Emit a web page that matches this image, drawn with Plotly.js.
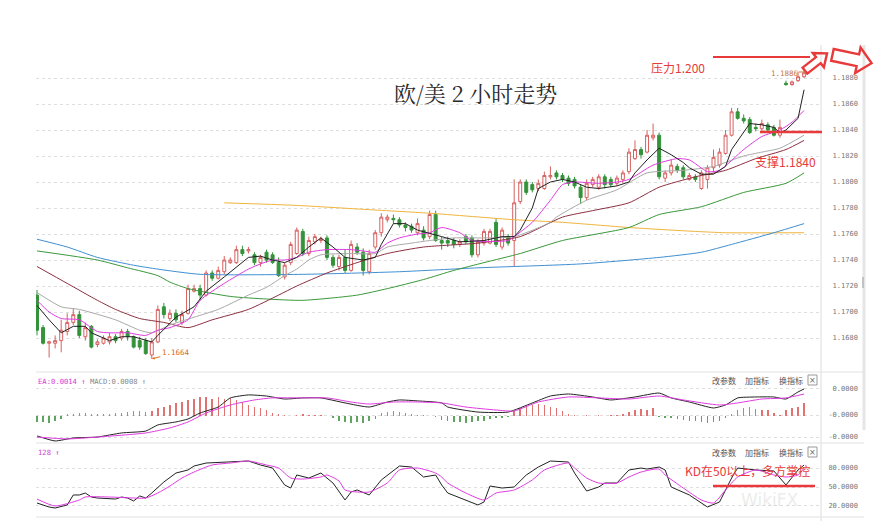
<!DOCTYPE html>
<html><head><meta charset="utf-8">
<script src="https://cdn.plot.ly/plotly-3.0.1.min.js"></script>
<style>html,body{margin:0;padding:0;background:#fff}#chart{width:876px;height:521px}</style>
</head><body><div id="chart"></div>
<script>
// ---- candle data (2-hour EUR/USD) ----
const openP  = [1.1713,1.1688,1.1676,1.1676,1.1678,1.1685,1.1692,1.1698,1.1681,1.1689,1.1675,1.1676,1.1677,1.1681,1.1680,1.1685,1.1681,1.1678,1.1678,1.1667,
1.1677,1.1704,1.1695,1.1699,1.1692,1.1699,1.1716,1.1718,1.1713,1.1730,1.1726,1.1731,1.1738,1.1738,1.1748,1.1747,1.1744,1.1738,1.1746,1.1744,
1.1738,1.1727,1.1738,1.1745,1.1762,1.1745,1.1754,1.1755,1.1757,1.1742,1.1735,1.1742,1.1732,1.1750,1.1746,1.1731,1.1750,1.1761,1.1771,1.1772,
1.1771,1.1767,1.1766,1.1761,1.1763,1.1758,1.1775,1.1755,1.1755,1.1755,1.1752,1.1758,1.1757,1.1744,1.1753,1.1753,1.1769,1.1750,1.1758,1.1755,
1.1785,1.1800,1.1798,1.1795,1.1795,1.1804,1.1807,1.1805,1.1803,1.1802,1.1796,1.1788,1.1798,1.1796,1.1804,1.1802,1.1799,1.1802,1.1808,1.1818,
1.1825,1.1823,1.1834,1.1836,1.1803,1.1807,1.1812,1.1811,1.1802,1.1804,1.1795,1.1802,1.1811,1.1813,1.1822,1.1836,1.1854,1.1849,1.1848,1.1842,
1.1841,1.1844,1.1842,1.1836,1.1876,1.1875,1.1878,1.1881];
const highP  = [1.1717,1.1690,1.1678,1.1682,1.1694,1.1699,1.1703,1.1701,1.1692,1.1690,1.1679,1.1682,1.1684,1.1683,1.1687,1.1687,1.1682,1.1681,1.1680,1.1680,
1.1705,1.1707,1.1702,1.1702,1.1701,1.1721,1.1721,1.1721,1.1732,1.1732,1.1735,1.1743,1.1742,1.1751,1.1751,1.1750,1.1746,1.1744,1.1748,1.1746,
1.1742,1.1738,1.1754,1.1765,1.1764,1.1758,1.1760,1.1758,1.1759,1.1744,1.1744,1.1748,1.1755,1.1753,1.1749,1.1748,1.1763,1.1776,1.1775,1.1775,
1.1773,1.1769,1.1768,1.1772,1.1766,1.1778,1.1778,1.1758,1.1758,1.1757,1.1756,1.1760,1.1759,1.1756,1.1764,1.1764,1.1772,1.1765,1.1760,1.1802,
1.1802,1.1802,1.1800,1.1802,1.1808,1.1812,1.1809,1.1807,1.1805,1.1804,1.1798,1.1802,1.1804,1.1806,1.1806,1.1804,1.1805,1.1809,1.1826,1.1832,
1.1827,1.1840,1.1845,1.1838,1.1809,1.1817,1.1814,1.1813,1.1807,1.1806,1.1809,1.1813,1.1825,1.1826,1.1840,1.1857,1.1857,1.1852,1.1850,1.1845,
1.1848,1.1846,1.1844,1.1848,1.1878,1.1878,1.1885,1.1886];
const lowP   = [1.1682,1.1675,1.1665,1.1672,1.1669,1.1682,1.1690,1.1680,1.1678,1.1672,1.1673,1.1675,1.1675,1.1676,1.1678,1.1678,1.1672,1.1671,1.1667,1.1664,
1.1676,1.1695,1.1693,1.1692,1.1690,1.1698,1.1715,1.1709,1.1712,1.1724,1.1725,1.1729,1.1737,1.1737,1.1743,1.1745,1.1736,1.1735,1.1738,1.1737,
1.1727,1.1725,1.1736,1.1744,1.1743,1.1743,1.1752,1.1753,1.1740,1.1734,1.1732,1.1730,1.1731,1.1744,1.1728,1.1729,1.1748,1.1758,1.1769,1.1768,
1.1765,1.1762,1.1761,1.1759,1.1755,1.1756,1.1754,1.1748,1.1750,1.1749,1.1750,1.1752,1.1742,1.1742,1.1751,1.1752,1.1750,1.1748,1.1751,1.1735,
1.1783,1.1790,1.1792,1.1793,1.1794,1.1802,1.1802,1.1800,1.1797,1.1795,1.1783,1.1786,1.1796,1.1794,1.1795,1.1796,1.1797,1.1799,1.1806,1.1817,
1.1818,1.1822,1.1832,1.1802,1.1800,1.1805,1.1807,1.1802,1.1801,1.1800,1.1794,1.1795,1.1808,1.1811,1.1821,1.1835,1.1848,1.1845,1.1837,1.1839,
1.1839,1.1838,1.1835,1.1834,1.1874,1.1874,1.1877,1.1880];
const closeP = [1.1686,1.1676,1.1677,1.1678,1.1686,1.1692,1.1698,1.1682,1.1688,1.1673,1.1677,1.1680,1.1681,1.1678,1.1685,1.1681,1.1673,1.1673,1.1668,1.1677,
1.1702,1.1698,1.1699,1.1694,1.1698,1.1718,1.1718,1.1713,1.1730,1.1726,1.1732,1.1740,1.1740,1.1748,1.1745,1.1748,1.1738,1.1742,1.1740,1.1738,
1.1728,1.1736,1.1752,1.1763,1.1745,1.1755,1.1758,1.1756,1.1742,1.1736,1.1742,1.1732,1.1752,1.1746,1.1732,1.1745,1.1761,1.1773,1.1773,1.1771,
1.1767,1.1765,1.1763,1.1768,1.1757,1.1775,1.1755,1.1753,1.1753,1.1752,1.1754,1.1754,1.1744,1.1754,1.1762,1.1762,1.1752,1.1763,1.1753,1.1784,
1.1800,1.1792,1.1794,1.1799,1.1805,1.1805,1.1804,1.1802,1.1799,1.1797,1.1788,1.1799,1.1802,1.1804,1.1798,1.1798,1.1803,1.1807,1.1823,1.1825,
1.1821,1.1836,1.1836,1.1804,1.1807,1.1813,1.1809,1.1804,1.1805,1.1802,1.1807,1.1811,1.1819,1.1823,1.1836,1.1854,1.1849,1.1847,1.1838,1.1841,
1.1845,1.1840,1.1836,1.1842,1.1875,1.1877,1.1881,1.1884];
const barIdx = openP.map((_, i) => i);

// ---- moving averages (read at sample bars) ----
const ma5Idx = [0,2,4,6,8,9,12,14,16,19,20,23,26,28,31,35,37,39,41,43,45,47,49,51,54,56,57,59,61,63,67,70,74,77,79,80,82,83,85,87,89,91,93,96,98,99,101,103,105,107,108,110,112,114,115,117,118,120,122,123,124,126,127];
const ma5Val = [1.1705,1.1694,1.1684,1.1689,1.1689,1.1684,1.1678,1.1681,1.1681,1.1677,1.1682,1.1696,1.1704,1.1716,1.1727,1.1742,1.1743,1.1740,1.1738,1.1742,1.1750,1.1757,1.1750,1.1742,1.1740,1.1742,1.1752,1.1768,1.1768,1.1763,1.1758,1.1754,1.1755,1.1758,1.1758,1.1763,1.1780,1.1795,1.1800,1.1802,1.1800,1.1796,1.1795,1.1797,1.1800,1.1807,1.1817,1.1826,1.1821,1.1815,1.1811,1.1806,1.1806,1.1812,1.1825,1.1838,1.1845,1.1844,1.1842,1.1838,1.1840,1.1849,1.1871];
const ma10Idx = [0,2,4,7,10,12,15,18,20,22,25,27,31,35,37,39,41,43,45,48,52,54,56,58,60,63,65,67,70,72,78,79,82,85,87,89,93,96,98,102,106,108,111,113,117,120,123,125,127];
const ma10Val = [1.1709,1.1700,1.1695,1.1694,1.1685,1.1684,1.1684,1.1682,1.1686,1.1688,1.1694,1.1709,1.1722,1.1733,1.1737,1.1740,1.1740,1.1742,1.1746,1.1748,1.1748,1.1747,1.1746,1.1753,1.1757,1.1760,1.1761,1.1765,1.1761,1.1755,1.1755,1.1758,1.1769,1.1786,1.1798,1.1800,1.1799,1.1800,1.1802,1.1813,1.1818,1.1817,1.1808,1.1809,1.1825,1.1835,1.1840,1.1846,1.1855];
const ma20Idx = [0,4,7,13,17,19,22,26,30,35,38,41,43,45,47,52,56,58,62,65,69,74,79,85,86,91,96,101,107,112,117,120,123,127];
const ma20Val = [1.1715,1.1704,1.1702,1.1694,1.1686,1.1684,1.1690,1.1696,1.1702,1.1713,1.1719,1.1728,1.1733,1.1740,1.1744,1.1745,1.1745,1.1750,1.1753,1.1755,1.1757,1.1757,1.1758,1.1769,1.1773,1.1786,1.1794,1.1807,1.1809,1.1812,1.1820,1.1823,1.1826,1.1836];
const ma30Idx = [0,5,10,13,17,21,25,29,35,40,43,48,53,58,64,73,80,87,92,98,103,109,114,119,124,127];
const ma30Val = [1.1735,1.1722,1.1709,1.1702,1.1695,1.1692,1.1688,1.1694,1.1702,1.1713,1.1720,1.1730,1.1738,1.1745,1.1750,1.1753,1.1758,1.1773,1.1778,1.1784,1.1796,1.1804,1.1809,1.1818,1.1825,1.1832];
const ma60Idx = [0,10,15,20,22,25,32,38,44,53,58,64,69,74,80,87,98,103,110,117,124,127];
const ma60Val = [1.1747,1.1740,1.1734,1.1728,1.1723,1.1718,1.1712,1.1710,1.1709,1.1713,1.1718,1.1725,1.1732,1.1738,1.1745,1.1755,1.1765,1.1775,1.1781,1.1792,1.1799,1.1807];
const ma120Idx = [0,5,10,16,20,27,44,60,73,90,103,110,115,122,127];
const ma120Val = [1.1756,1.1750,1.1742,1.1736,1.1733,1.1729,1.1729,1.1731,1.1734,1.1737,1.1742,1.1746,1.1752,1.1761,1.1768];
const ma250Idx = [31,43,54,65,79,87,98,109,114,127];
const ma250Val = [1.1784,1.1782,1.1779,1.1776,1.1771,1.1769,1.1765,1.1762,1.1761,1.1761];

// ---- MACD (units of 0.0001) ----
const macdHist = [-0.4,-0.4,-0.45,-0.35,-0.2,0.1,0.15,0.2,0.2,0.1,0.1,0.15,0.1,0.2,0.2,0.25,0.3,0.3,0.25,0.3,
0.5,0.6,0.7,0.8,0.9,1.0,1.1,1.2,1.2,1.1,1.2,1.1,1.15,1.0,0.9,0.7,0.6,0.5,0.35,0.2,
0.1,0.05,0.02,0.05,0.1,0.05,0.05,0.05,0.02,-0.1,-0.3,-0.4,-0.45,-0.4,-0.45,-0.3,-0.2,0.2,0.25,0.3,
0.25,0.2,0.15,0.05,0.05,0.02,-0.05,-0.25,-0.35,-0.4,-0.4,-0.45,-0.4,-0.35,-0.3,-0.2,-0.15,-0.1,-0.05,0.3,
0.5,0.6,0.7,0.75,0.7,0.6,0.5,0.3,0.15,0.05,0.03,0.05,0.03,0.05,0.03,0.05,0.05,0.1,0.25,0.35,
0.45,0.35,0.5,-0.05,-0.1,-0.15,-0.2,-0.25,-0.3,-0.35,-0.4,-0.45,-0.4,-0.3,-0.15,0.1,0.4,0.5,0.55,0.45,
0.35,0.35,0.2,0.05,0.35,0.5,0.6,0.8];
const difIdx = [0,3,6,10,14,18,20,23,25,27,30,32,35,38,41,44,47,51,55,58,60,63,67,68,73,78,82,85,88,92,95,99,103,105,108,112,114,116,119,122,124,126,127];
const difVal = [-1.27,-1.59,-1.40,-1.34,-1.08,-0.96,-0.57,-0.38,-0.19,0.19,0.57,1.15,1.34,1.27,1.08,1.15,1.15,0.83,0.57,0.89,1.02,0.96,0.83,0.57,0.25,0.25,0.83,1.27,1.40,1.21,1.02,1.21,1.46,1.15,0.89,0.51,0.70,1.15,1.21,1.21,1.08,1.53,1.72];
const deaIdx = [0,5,10,18,22,25,28,32,36,39,44,48,52,55,59,63,67,71,76,79,83,88,93,98,103,107,113,116,120,124,127];
const deaVal = [-1.34,-1.46,-1.34,-1.08,-0.76,-0.38,0.19,0.70,1.02,1.15,1.15,1.15,0.89,0.76,0.89,0.89,0.83,0.57,0.38,0.32,0.89,1.21,1.15,1.08,1.27,1.02,0.70,0.83,1.08,1.15,1.40];

// ---- KD ----
const kIdx = [0,2,3,5,6,7,8,9,10,13,14,15,16,17,18,19,21,23,25,26,28,31,35,37,39,41,42,43,45,47,49,51,52,53,55,57,60,62,64,66,67,68,71,72,73,74,75,77,79,81,83,85,88,89,91,93,94,96,98,100,101,103,104,105,108,111,113,115,116,119,122,124,126,127];
const kVal = [24.7,18.4,16.8,21.6,37.4,37.4,40.5,34.2,32.6,31.0,34.2,32.6,27.9,35.8,32.6,40.5,57.9,72.1,76.9,83.2,87.9,89.5,91.1,84.8,80.0,53.2,48.4,69.0,64.2,72.1,56.3,29.5,42.1,45.3,37.4,61.1,83.2,81.6,65.8,69.0,53.2,40.5,29.5,26.3,21.6,26.3,51.6,48.4,50.0,69.0,81.6,91.1,89.5,72.1,43.7,50.0,56.3,56.3,76.9,80.0,78.4,81.6,76.9,50.0,37.4,18.4,26.3,64.2,80.0,76.9,75.3,53.2,76.9,84.8];
const dIdx = [0,3,7,8,12,16,18,20,22,24,26,29,32,35,38,40,42,44,47,48,50,51,53,55,58,60,63,66,67,68,71,74,76,79,82,84,88,89,91,93,96,98,100,103,104,107,110,112,114,116,119,122,124,126,127];
const dVal = [31.0,20.0,29.5,34.2,34.2,32.6,32.6,40.5,51.6,64.2,73.7,84.8,87.9,91.1,84.8,80.0,64.2,62.6,65.8,69.0,59.5,45.3,42.1,42.1,56.3,76.9,80.0,72.1,65.8,56.3,40.5,29.5,40.5,45.3,61.1,76.9,87.9,80.0,64.2,56.3,56.3,65.8,73.7,78.4,69.0,48.4,29.5,24.7,45.3,65.8,76.9,69.0,65.8,69.0,80.0];

// ---- tick labels ----
const priceTicks = [1.1680,1.1700,1.1720,1.1740,1.1760,1.1780,1.1800,1.1820,1.1840,1.1860,1.1880];
const priceTickText = priceTicks.map(v => '\u00A0' + v.toFixed(4));
const macdTicks = [1.72, 0.06, -1.34];
const macdTickText = ['\u00A00.0000', '-0.0000', '-0.0000'];
const kdTicks = [80, 50, 20];
const kdTickText = ['80.0000', '50.0000', '20.0000'];

// ---- helpers for pixel placement ----
const W = 876, H = 521;
const PX = x => x / W, PY = y => 1 - y / H;
const MONO = 'DejaVu Sans Mono, Liberation Mono, monospace';
const CJK = 'Noto Sans CJK SC, Noto Sans, sans-serif';

function maLine(xs, ys, color, shape) {
  return {type: 'scatter', mode: 'lines', x: xs, y: ys, xaxis: 'x', yaxis: 'y',
    line: {color: color, width: 1, shape: shape || 'spline', smoothing: 0.6}, hoverinfo: 'skip'};
}

const traces = [
  {type: 'candlestick', x: barIdx, open: openP, high: highP, low: lowP, close: closeP,
   xaxis: 'x', yaxis: 'y', whiskerwidth: 0, hoverinfo: 'skip',
   increasing: {line: {color: '#d86060', width: 1}, fillcolor: '#ffffff'},
   decreasing: {line: {color: '#34933a', width: 1}, fillcolor: '#34933a'}},
  maLine(ma250Idx, ma250Val, '#f0b43c'),
  maLine(ma120Idx, ma120Val, '#3f8fd2'),
  maLine(ma60Idx, ma60Val, '#3a983a'),
  maLine(ma30Idx, ma30Val, '#8c2f3f'),
  maLine(ma20Idx, ma20Val, '#a9a9a9'),
  maLine(ma10Idx, ma10Val, '#e03ae0'),
  maLine(ma5Idx, ma5Val, '#222222', 'linear'),
  {type: 'bar', x: barIdx, y: macdHist, xaxis: 'x', yaxis: 'y2', width: 0.24, hoverinfo: 'skip',
   marker: {color: macdHist.map(v => v >= 0 ? '#e07272' : '#5fa45f'), line: {width: 0}}},
  {type: 'scatter', mode: 'lines', x: difIdx, y: difVal, xaxis: 'x', yaxis: 'y2',
   line: {color: '#222', width: 1, shape: 'spline', smoothing: 0.5}, hoverinfo: 'skip'},
  {type: 'scatter', mode: 'lines', x: deaIdx, y: deaVal, xaxis: 'x', yaxis: 'y2',
   line: {color: '#e03ae0', width: 1, shape: 'spline', smoothing: 0.6}, hoverinfo: 'skip'},
  {type: 'scatter', mode: 'lines', x: kIdx, y: kVal, xaxis: 'x', yaxis: 'y3',
   line: {color: '#222', width: 1}, hoverinfo: 'skip'},
  {type: 'scatter', mode: 'lines', x: dIdx, y: dVal, xaxis: 'x', yaxis: 'y3',
   line: {color: '#e03ae0', width: 1, shape: 'spline', smoothing: 0.6}, hoverinfo: 'skip'}
];

const yCommon = {side: 'right', anchor: 'x', zeroline: false, showline: false,
  ticks: 'outside', ticklen: 5, tickcolor: 'rgba(0,0,0,0)', tickmode: 'array',
  tickfont: {family: MONO, size: 7, color: '#777'},
  gridcolor: '#dedede', griddash: 'dot', gridwidth: 1, fixedrange: true};

function blockArrow(cx, cy, len, shaft, head, headLen, angleDeg) {
  const pts = [[-len/2,-shaft],[len/2-headLen,-shaft],[len/2-headLen,-head],[len/2,0],
               [len/2-headLen,head],[len/2-headLen,shaft],[-len/2,shaft]];
  const a = angleDeg * Math.PI / 180, c = Math.cos(a), s = Math.sin(a);
  return 'M' + pts.map(([x, y]) => PX(cx + x*c - y*s).toFixed(5) + ',' + PY(cy + x*s + y*c).toFixed(5)).join(' L') + ' Z';
}
function hline(x0, x1, y, color, width) {
  return {type: 'line', xref: 'paper', yref: 'paper', x0: PX(x0), x1: PX(x1), y0: PY(y), y1: PY(y), line: {color: color, width: width}};
}
function vline(x, y0, y1, color, width) {
  return {type: 'line', xref: 'paper', yref: 'paper', x0: PX(x), x1: PX(x), y0: PY(y0), y1: PY(y1), line: {color: color, width: width}};
}
function rect(x0, y0, x1, y1, color) {
  return {type: 'rect', xref: 'paper', yref: 'paper', x0: PX(x0), x1: PX(x1), y0: PY(y1), y1: PY(y0), line: {color: color, width: 1}};
}

const RED = '#e83a3a';
const shapes = [
  vline(821, 45, 521, '#dcdcdc', 1),
  vline(864, 45, 430, '#e6e6e6', 3),
  vline(863, 277, 288, '#999', 1),
  hline(36, 864, 372, '#e2e2e2', 1),
  hline(36, 864, 443, '#e2e2e2', 1),
  hline(36, 864, 517, '#e2e2e2', 1),
  hline(713, 810, 57, RED, 2),
  {type: 'path', xref: 'paper', yref: 'paper', path: blockArrow(816, 62, 28, 3.8, 9, 11, -38), line: {color: RED, width: 2.4}},
  {type: 'path', xref: 'paper', yref: 'paper', path: blockArrow(852, 59, 40, 6, 13, 14, 12), line: {color: RED, width: 2.4}},
  hline(760, 822, 132, RED, 2.5),
  hline(713, 815, 486, RED, 2.5),
  hline(799, 806, 72, '#c8783a', 1),
  rect(808, 375, 817, 385, '#999'),
  rect(808, 447, 817, 457, '#999')
];

function txt(x, y, text, font, anchor) {
  return {xref: 'paper', yref: 'paper', x: PX(x), y: PY(y), text: text, showarrow: false,
    xanchor: anchor || 'center', yanchor: 'middle', font: font};
}
const btnFont = {family: CJK, size: 8, color: '#555'};
const annotations = [
  txt(475, 93, '欧/美 2 小时走势', {family: 'Noto Serif CJK SC, Noto Sans CJK SC, serif', size: 22, color: '#2a2a2a'}),
  txt(678, 68, '压力1.200', {family: CJK, size: 12, color: RED}),
  txt(785, 162, '支撑1.1840', {family: CJK, size: 12, color: RED}),
  txt(747, 470, 'KD在50以上，多方掌控', {family: CJK, size: 12, color: RED}),
  txt(785, 73, '1.1886', {family: MONO, size: 7.5, color: '#c8783a'}),
  {xref: 'x', yref: 'y', x: 19, y: 1.1664, text: '1.1664', showarrow: true, arrowhead: 2, arrowsize: 0.6,
   arrowwidth: 1, arrowcolor: '#e0782a', ax: 24, ay: -6, font: {family: MONO, size: 7.5, color: '#d2691e'}},
  txt(36, 381, '<span style="color:#d63ad6">EA:0.0014 ↑</span> <span style="color:#888">MACD:0.0008 ↑</span>', {family: MONO, size: 7.2, color: '#888'}, 'left'),
  txt(36, 452, '128 ↑', {family: MONO, size: 7.2, color: '#d63ad6'}, 'left'),
  txt(724, 380, '改参数', btnFont), txt(757, 380, '加指标', btnFont), txt(791, 380, '换指标', btnFont),
  txt(812.5, 380, '×', {family: 'DejaVu Sans', size: 8, color: '#666'}),
  txt(724, 452, '改参数', btnFont), txt(757, 452, '加指标', btnFont), txt(791, 452, '换指标', btnFont),
  txt(812.5, 452, '×', {family: 'DejaVu Sans', size: 8, color: '#666'}),
  txt(770, 500, 'WikiFX', {family: 'DejaVu Sans', size: 17, color: 'rgba(190,190,190,0.3)'})
];

const layout = {
  width: W, height: H, margin: {l: 0, r: 0, t: 0, b: 0, pad: 0},
  paper_bgcolor: '#ffffff', plot_bgcolor: '#ffffff', showlegend: false,
  xaxis: {domain: [PX(36), PX(821)], range: [-0.17, 129.8], anchor: 'y3',
    showgrid: false, zeroline: false, showticklabels: false, showline: false, ticks: '',
    rangeslider: {visible: false}, fixedrange: true},
  yaxis: Object.assign({}, yCommon, {domain: [PY(370), PY(45)], range: [1.16554, 1.19054],
    tickvals: priceTicks, ticktext: priceTickText}),
  yaxis2: Object.assign({}, yCommon, {domain: [PY(443), PY(372)], range: [-1.72, 2.80],
    tickvals: macdTicks, ticktext: macdTickText}),
  yaxis3: Object.assign({}, yCommon, {domain: [PY(517), PY(445)], range: [2.6, 116.4],
    tickvals: kdTicks, ticktext: kdTickText}),
  shapes: shapes, annotations: annotations, bargap: 0
};

Plotly.newPlot('chart', traces, layout, {staticPlot: true, displayModeBar: false});
</script></body></html>
